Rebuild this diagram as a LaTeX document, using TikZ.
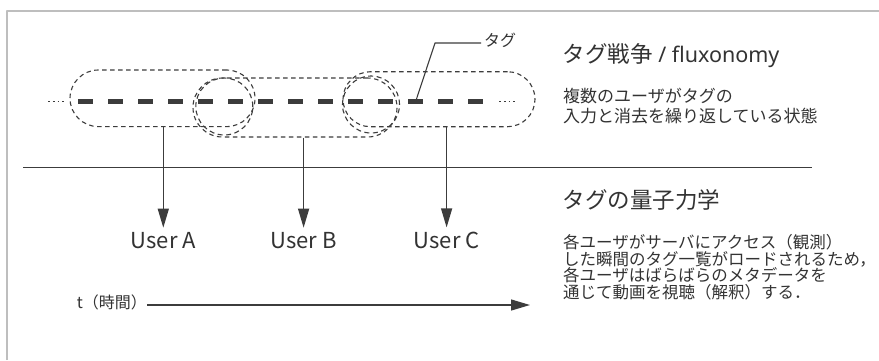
\documentclass[tikz,border=0pt]{standalone}
\usepackage{fontspec}
\setmainfont{Noto Sans CJK JP}
\newfontfamily\latinfont{Noto Sans}
\usepackage{tikz}
\usetikzlibrary{arrows.meta}

\definecolor{ink}{HTML}{333333}
\definecolor{rule}{HTML}{3C3C3C}
\definecolor{frame}{HTML}{BEBEBE}

\begin{document}
\begin{tikzpicture}[x=1pt, y=-1pt, ink, line join=round,
  group/.style={draw=rule, rectangle, line width=1.1pt, dash pattern=on 4.5pt off 3.5pt, inner sep=0pt},
  overlap/.style={draw=rule, circle, line width=1.1pt, dash pattern=on 5pt off 3.5pt, inner sep=0pt, minimum size=57pt},
  tag dash/.style={line width=4.6pt, dash pattern=on 15pt off 15pt, rule},
  dots/.style={line width=1.2pt, dash pattern=on 1.8pt off 3pt, rule},
  user node/.style={font=\fontsize{22}{26}\selectfont, inner sep=4pt, anchor=base},
  user arrow/.style={rule, line width=1.3pt, -{Triangle[length=19pt, width=11pt]}},
  txt/.style={inner sep=0pt, text height=.88em, text depth=.12em, anchor=west},
  head/.style={txt, font=\fontsize{22.5}{26}\selectfont},
  sub/.style={txt, font=\fontsize{17}{20}\selectfont},
  body/.style={txt, font=\fontsize{16.5}{18}\selectfont},
  note/.style={txt, font=\fontsize{16}{18}\selectfont, inner xsep=3pt}]

\fill[white] (0,0) rectangle (879,360);
\useasboundingbox (0,0) rectangle (879,360);

% panel edge
\draw[frame, line width=2pt] (7,360) -- (7,10.5) -- (879,10.5);

% tag groups seen by each user
\node[group, minimum width=185pt, minimum height=56.6pt, rounded corners=28.3pt] (grpA) at (162.5,98.3) {};
\node[group, minimum width=204pt, minimum height=59pt, rounded corners=29.5pt] (grpB) at (295,107.5) {};
\node[group, minimum width=192pt, minimum height=55pt, rounded corners=27.5pt] (grpC) at (439,99.2) {};
\node[overlap] (ovAB) at (224.3,106.5) {};
\node[overlap] (ovBC) at (371,104.5) {};

% the tag stream
\draw[dots] (48,101.5) -- (64,101.5);
\draw[tag dash] (78,101.5) -- (483,101.5);
\draw[dots] (499,101.5) -- (515,101.5);

\coordinate (tagpt) at (416.5,99);
\node[note] (tagL) at (481,43) {タグ};
\draw[rule, line width=1.1pt] (tagL.west) -- ++(-46,0) -- (tagpt);

% separator
\draw[rule, line width=1.4pt] (23,167.5) -- (812,167.5);

% users
\node[user node] (uA) at (163.3,248) {User A};
\node[user node] (uB) at (303.6,248) {User B};
\node[user node] (uC) at (446.6,248) {User C};

\path[user arrow]
(grpA.south -| uA.north) edge (uA.north)
(grpB.south -| uB.north) edge (uB.north)
(grpC.south -| uC.north) edge (uC.north);

% time axis
\node[txt, font=\fontsize{16}{18}\selectfont, anchor=east] (tL) at (147,305) {t（時間）};
\coordinate (tEnd) at (530,305);
\draw[user arrow] (tL.east) -- (tEnd);

% explanations
\node[head] (h1) at (562.5,59) {タグ戦争{\latinfont\fontsize{21.5}{26}\selectfont{} / fluxonomy}};
\node[sub] (s1) at (563,99) {複数のユーザがタグの};
\node[sub] (s2) at (563,119) {入力と消去を繰り返している状態};

\node[head] (h2) at (562.5,205) {タグの量子力学};
\node[body] (b1) at (563,245) {各ユーザがサーバにアクセス（観測）};
\node[body] (b2) at (563,261.5) {した瞬間のタグ一覧がロードされるため，};
\node[body] (b3) at (563,278) {各ユーザはばらばらのメタデータを};
\node[body] (b4) at (563,294.5) {通じて動画を視聴（解釈）する．};
\end{tikzpicture}
\end{document}
